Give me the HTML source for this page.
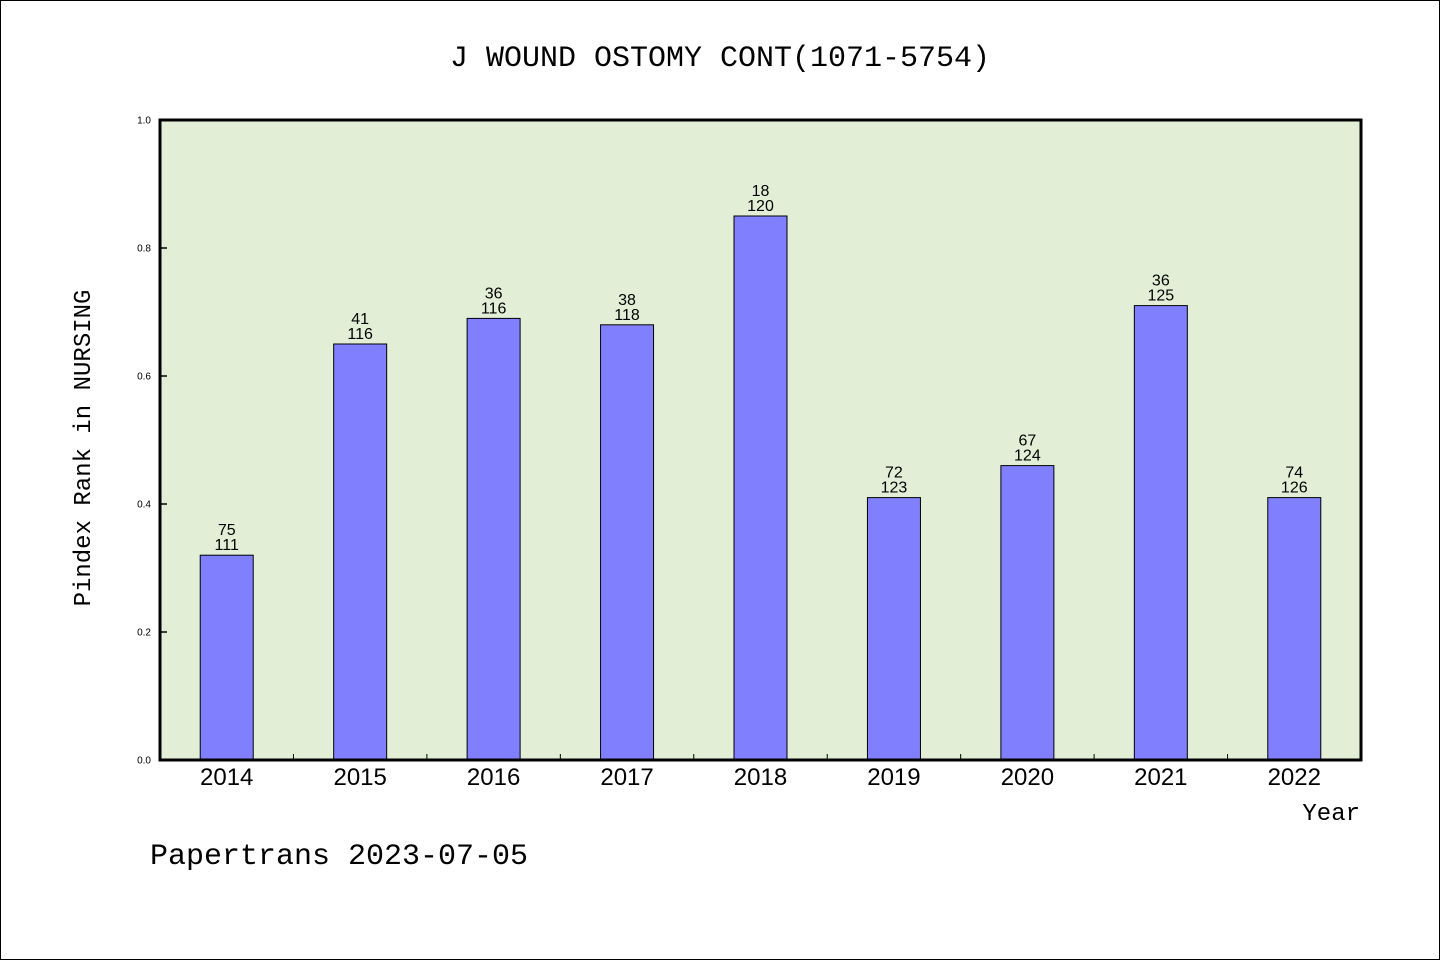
<!DOCTYPE html>
<html><head><meta charset="utf-8"><style>
html,body{margin:0;padding:0;background:#fff}
svg{display:block}
.mono{font-family:"Liberation Mono","DejaVu Sans Mono",monospace}
.sans{font-family:"Liberation Sans","DejaVu Sans",sans-serif}
</style></head><body>
<svg id="chart" width="1440" height="960" viewBox="0 0 1440 960">
<rect x="0.5" y="0.5" width="1439" height="959" fill="#fff" stroke="#000"/>
<text x="720" y="66" text-anchor="middle" class="mono" font-size="30">J WOUND OSTOMY CONT(1071-5754)</text>
<rect x="160" y="120" width="1201" height="640" fill="#e2efd6"/>
<g id="yaxis"></g>
<g id="bars"></g>
<g id="xaxis"></g>
<rect x="160" y="120" width="1201" height="640" fill="none" stroke="#000" stroke-width="3"/>
<text transform="translate(90,448) rotate(-90)" text-anchor="middle" class="mono" font-size="24">Pindex Rank in NURSING</text>
<text x="1360" y="820" text-anchor="end" class="mono" font-size="24">Year</text>
<text x="150" y="864" class="mono" font-size="30">Papertrans 2023-07-05</text>
</svg>
<script>
const categories=["2014","2015","2016","2017","2018","2019","2020","2021","2022"];
const values=[0.32,0.65,0.69,0.68,0.85,0.41,0.46,0.71,0.41];
const topLabels=["75","41","36","38","18","72","67","36","74"];
const bottomLabels=["111","116","116","118","120","123","124","125","126"];
const yTicks=[0,0.2,0.4,0.6,0.8,1.0];
const yTickLabels=["0.0","0.2","0.4","0.6","0.8","1.0"];
const NS="http://www.w3.org/2000/svg";
const X0=160,X1=1361,Y0=760,Y1=120;
const band=(X1-X0)/categories.length;
const xc=i=>X0+band*(i+0.5);
const y=v=>Y0-(Y0-Y1)*v;
function mk(tag,attrs,parent,txt){const e=document.createElementNS(NS,tag);for(const k in attrs)e.setAttribute(k,attrs[k]);if(txt!==undefined)e.textContent=txt;parent.appendChild(e);return e;}
const ya=document.getElementById('yaxis'),bg=document.getElementById('bars'),xa=document.getElementById('xaxis');
yTicks.forEach((t,i)=>{
 const l=mk('line',{x1:X0,x2:X0+7,y1:y(t),y2:y(t),stroke:'#000','stroke-width':1.5},ya);
 
 
 const tx=mk('text',{x:151,y:y(t)+3.5,'text-anchor':'end','font-size':10,class:'sans'},ya,yTickLabels[i]);
 
 
});
const bw=53;
categories.forEach((c,i)=>{
 const r=mk('rect',{x:xc(i)-bw/2,y:y(values[i]),width:bw,height:Y0-y(values[i]),fill:'#8080ff',stroke:'#000','stroke-width':1},bg);
 
 
 const t1=mk('text',{x:xc(i),y:y(values[i])-20,'text-anchor':'middle','font-size':16,class:'sans'},bg,topLabels[i]);
 
 
 const t2=mk('text',{x:xc(i),y:y(values[i])-5,'text-anchor':'middle','font-size':16,class:'sans'},bg,bottomLabels[i]);
 
 
 const xl=mk('text',{x:xc(i),y:785,'text-anchor':'middle','font-size':24,class:'sans'},xa,c);
 
 
 if(i>0){
  const tk=mk('line',{x1:X0+band*i,x2:X0+band*i,y1:Y0,y2:Y0-6,stroke:'#000','stroke-width':1},xa);
  
  
 }
});
</script>
</body></html>
